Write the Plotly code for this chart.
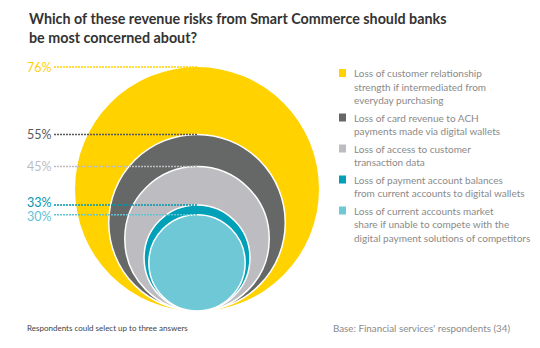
import plotly.graph_objects as go

# ---- data ----
values = [76, 55, 45, 33, 30]
value_labels = ["76%", "55%", "45%", "33%", "30%"]
legend_labels = [
    "Loss of customer relationship<br>strength if intermediated from<br>everyday purchasing",
    "Loss of card revenue to ACH<br>payments made via digital wallets",
    "Loss of access to customer<br>transaction data",
    "Loss of payment account balances<br>from current accounts to digital wallets",
    "Loss of current accounts market<br>share if unable to compete with the<br>digital payment solutions of competitors",
]
title_text = "Which of these revenue risks from Smart Commerce should banks<br>be most concerned about?"
note_left = "Respondents could select up to three answers"
note_right = "Base: Financial services' respondents (34)"

# ---- style ----
fill_colors = ["#FFD200", "#666767", "#BDBDC1", "#00A0B8", "#6FC8D6"]
label_colors = ["#FFD200", "#58595B", "#BDBDC1", "#0096B0", "#5FC3D4"]
label_nudge_px = [0, 0, 0, -2.5, 1.5]   # small vertical nudges to keep 33%/30% apart
legend_text_color = "#8A8A8A"

W, H = 540, 348
px_per_unit = 3.21      # pixels per percentage point of diameter
cx_px, base_px = 197, 311

x_range = [-cx_px / px_per_unit, (W - cx_px) / px_per_unit]
y_range = [-(H - base_px) / px_per_unit, base_px / px_per_unit]

def px_to_x(px):
    return (px - cx_px) / px_per_unit

fig = go.Figure()
# invisible trace to establish axes
fig.add_trace(go.Scatter(x=[0], y=[0], mode="markers", marker=dict(opacity=0),
                         hoverinfo="skip", showlegend=False))

shapes = []
annotations = []
for i, v in enumerate(values):
    shapes.append(dict(type="circle", xref="x", yref="y",
                       x0=-v / 2, x1=v / 2, y0=0, y1=v,
                       fillcolor=fill_colors[i],
                       line=dict(color="white", width=1.5 if i > 0 else 0),
                       layer="below"))
for i, v in enumerate(values):
    shapes.append(dict(type="line", xref="x", yref="y",
                       x0=px_to_x(54), x1=0, y0=v, y1=v,
                       line=dict(color=label_colors[i], width=1.5, dash="2px,1px"),
                       layer="above"))
    annotations.append(dict(xref="x", yref="y", x=px_to_x(53),
                            y=v - label_nudge_px[i] / px_per_unit,
                            text=value_labels[i], showarrow=False,
                            xanchor="right", yanchor="middle", borderpad=0,
                            font=dict(family="Lato", size=12.5, color=label_colors[i])))

# legend (drawn as squares + text)
y_px = 73
line_pitch = 13.5
for i, lab in enumerate(legend_labels):
    lines = lab.split("<br>")
    shapes.append(dict(type="rect", xref="paper", yref="paper",
                       x0=339 / W, x1=346 / W,
                       y0=1 - (y_px + 4) / H, y1=1 - (y_px - 4) / H,
                       fillcolor=fill_colors[i], line=dict(width=0)))
    for j, ln in enumerate(lines):
        annotations.append(dict(xref="paper", yref="paper",
                                x=352 / W, y=1 - (y_px + j * line_pitch) / H,
                                text=ln, showarrow=False,
                                xanchor="left", yanchor="middle",
                                font=dict(family="Lato", size=10, color=legend_text_color)))
    y_px += len(lines) * line_pitch + 4

# title
annotations.append(dict(xref="paper", yref="paper", x=27 / W, y=1 - 8 / H,
                        text="<b>" + title_text + "</b>", showarrow=False,
                        xanchor="left", yanchor="top", align="left",
                        font=dict(family="Lato", size=14.3, color="#333333")))
annotations.append(dict(xref="paper", yref="paper", x=25 / W, y=1 - 328 / H,
                        text=note_left, showarrow=False, xanchor="left", yanchor="middle",
                        font=dict(family="Lato", size=8, color="#444444")))
annotations.append(dict(xref="paper", yref="paper", x=512 / W, y=1 - 328 / H,
                        text=note_right, showarrow=False, xanchor="right", yanchor="middle",
                        font=dict(family="Lato", size=9.8, color="#8A8A8A")))

fig.update_layout(
    width=W, height=H,
    margin=dict(l=0, r=0, t=0, b=0),
    paper_bgcolor="white", plot_bgcolor="white",
    xaxis=dict(range=x_range, visible=False, fixedrange=True),
    yaxis=dict(range=y_range, visible=False, fixedrange=True),
    shapes=shapes, annotations=annotations, showlegend=False,
)
fig.write_html("out.html")
